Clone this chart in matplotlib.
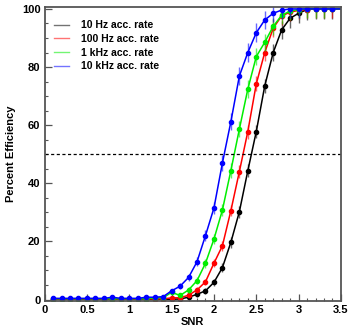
import numpy as np
import matplotlib.pyplot as plt
from matplotlib.ticker import MultipleLocator

plt.rcParams["font.family"] = ["Liberation Sans", "DejaVu Sans"]
plt.rcParams["font.weight"] = "bold"

# SNR grid 0.1 .. 3.5
snr = [0.1, 0.2, 0.3, 0.4, 0.5, 0.6, 0.7, 0.8, 0.9, 1.0,
       1.1, 1.2, 1.3, 1.4, 1.5, 1.6, 1.7, 1.8, 1.9, 2.0,
       2.1, 2.2, 2.3, 2.4, 2.5, 2.6, 2.7, 2.8, 2.9, 3.0,
       3.1, 3.2, 3.3, 3.4, 3.5]

eff_10hz = [0.1, 0.1, 0.1, 0.1, 0.1, 0.1, 0.1, 0.1, 0.1, 0.1,
            0.1, 0.1, 0.1, 0.1, 0.1, 0.2, 0.8, 1.8, 3.0, 5.9,
            11.0, 19.7, 30.2, 44.3, 57.8, 73.5, 85.0, 92.8, 96.8, 98.5,
            99.8, 100.0, 100.0, 100.0, 100.0]
eff_100hz = [0.2, 0.2, 0.2, 0.2, 0.2, 0.2, 0.2, 0.2, 0.2, 0.2,
             0.2, 0.2, 0.2, 0.2, 0.6, 0.6, 1.5, 3.3, 6.1, 12.5,
             18.5, 30.6, 44.0, 57.8, 74.2, 85.0, 93.4, 97.6, 98.9, 99.5,
             99.8, 100.0, 100.0, 100.0, 100.0]
eff_1khz = [0.3, 0.3, 0.3, 0.3, 0.3, 0.3, 0.3, 0.3, 0.3, 0.3,
            0.3, 0.3, 0.6, 0.6, 2.5, 1.4, 3.3, 6.5, 12.5, 20.8,
            30.8, 44.4, 58.6, 72.4, 83.6, 88.5, 94.0, 97.8, 99.3, 99.8,
            100.0, 100.0, 100.0, 100.0, 100.0]
eff_10khz = [0.4, 0.4, 0.4, 0.4, 0.4, 0.4, 0.4, 0.8, 0.4, 0.4,
             0.4, 0.8, 0.8, 1.0, 3.0, 4.6, 7.6, 13.0, 22.0, 31.5,
             47.0, 61.2, 76.9, 85.0, 91.8, 96.2, 98.5, 99.6, 100.0, 100.0,
             100.0, 100.0, 100.0, 100.0, 100.0]

# error bar half-lengths (percent)
err_10hz = [0.3] * 15 + [0.4, 0.6, 0.8, 1.0, 1.2, 1.5, 1.8, 2.0, 2.2, 2.3,
                         2.5, 2.8, 3.0, 3.2, 3.3, 3.5, 3.5, 3.5, 3.5, 0.0]
err_100hz = [0.3] * 14 + [0.5, 0.5, 0.7, 0.9, 1.1, 1.4, 1.7, 2.0, 2.2, 2.4,
                          2.6, 2.8, 3.0, 3.0, 3.0, 3.0, 3.0, 3.0, 3.0, 3.0, 0.0]
err_1khz = [0.3] * 12 + [0.4, 0.4, 0.8, 0.6, 0.9, 1.2, 1.5, 1.8, 2.2, 2.5,
                         2.7, 3.0, 3.0, 3.0, 3.0, 3.0, 3.0, 3.0, 3.0, 3.0, 3.0, 0.0, 0.0]
err_10khz = [0.3] * 13 + [0.5, 0.8, 1.0, 1.2, 1.5, 1.9, 2.2, 2.6, 3.0, 3.2,
                          3.3, 3.2, 3.0, 3.0, 3.0, 3.0, 3.0, 0.0, 0.0, 0.0, 0.0, 0.0, 0.0]

series = [
    ("10 Hz acc. rate", eff_10hz, err_10hz, "black"),
    ("100 Hz acc. rate", eff_100hz, err_100hz, "#ff0000"),
    ("1 kHz acc. rate", eff_1khz, err_1khz, "#00ee00"),
    ("10 kHz acc. rate", eff_10khz, err_10khz, "#0000ff"),
]

fig = plt.figure(figsize=(3.57, 3.30), dpi=100)
ax = fig.add_axes([0.125, 0.087, 0.830, 0.893])

n_pts = len(snr) - 1  # last grid point only extends the line to the frame
for label, eff, err, col in series:
    ax.errorbar(snr[:n_pts], eff[:n_pts], yerr=err[:n_pts], fmt="none",
                ecolor=col, elinewidth=1.0, alpha=0.6)
    ax.plot(snr, eff, color=col, lw=1.1, marker="o", markersize=3.0,
            markevery=list(range(n_pts)), label=label)

ax.axhline(50, color="black", lw=0.9, ls=(0, (2.5, 2)))

ax.set_xlim(0, 3.5)
ax.set_ylim(-0.6, 100.8)
ax.xaxis.set_minor_locator(MultipleLocator(0.1))
ax.yaxis.set_major_locator(MultipleLocator(20))
ax.yaxis.set_minor_locator(MultipleLocator(5))
ax.set_xticks([0, 0.5, 1, 1.5, 2, 2.5, 3, 3.5])
ax.set_xticklabels(["0", "0.5", "1", "1.5", "2", "2.5", "3", "3.5"])
ax.tick_params(which="both", direction="in", top=False, right=False,
               labelsize=8, color="#555555", pad=3)
ax.tick_params(which="major", length=5, width=0.9)
ax.tick_params(which="minor", length=2.5, width=0.8)
for lbl in ax.get_xticklabels() + ax.get_yticklabels():
    lbl.set_fontweight("bold")

for sp in ax.spines.values():
    sp.set_color("#555555")
    sp.set_linewidth(1.3)

ax.set_xlabel("SNR", fontsize=8, fontweight="bold", labelpad=2)
ax.xaxis.set_label_coords(0.5, -0.055)
ax.set_ylabel("Percent Efficiency", fontsize=8, fontweight="bold", labelpad=4)

leg = ax.legend(loc="upper left", bbox_to_anchor=(0.0, 0.985), frameon=False,
                fontsize=7.5, handlelength=1.4, handletextpad=1.2, labelspacing=0.35)
for line in leg.get_lines():
    line.set_marker("")
    line.set_linewidth(1.0)
    line.set_alpha(0.55)
for t in leg.get_texts():
    t.set_fontweight("bold")

fig.savefig("out.png", dpi=100)
